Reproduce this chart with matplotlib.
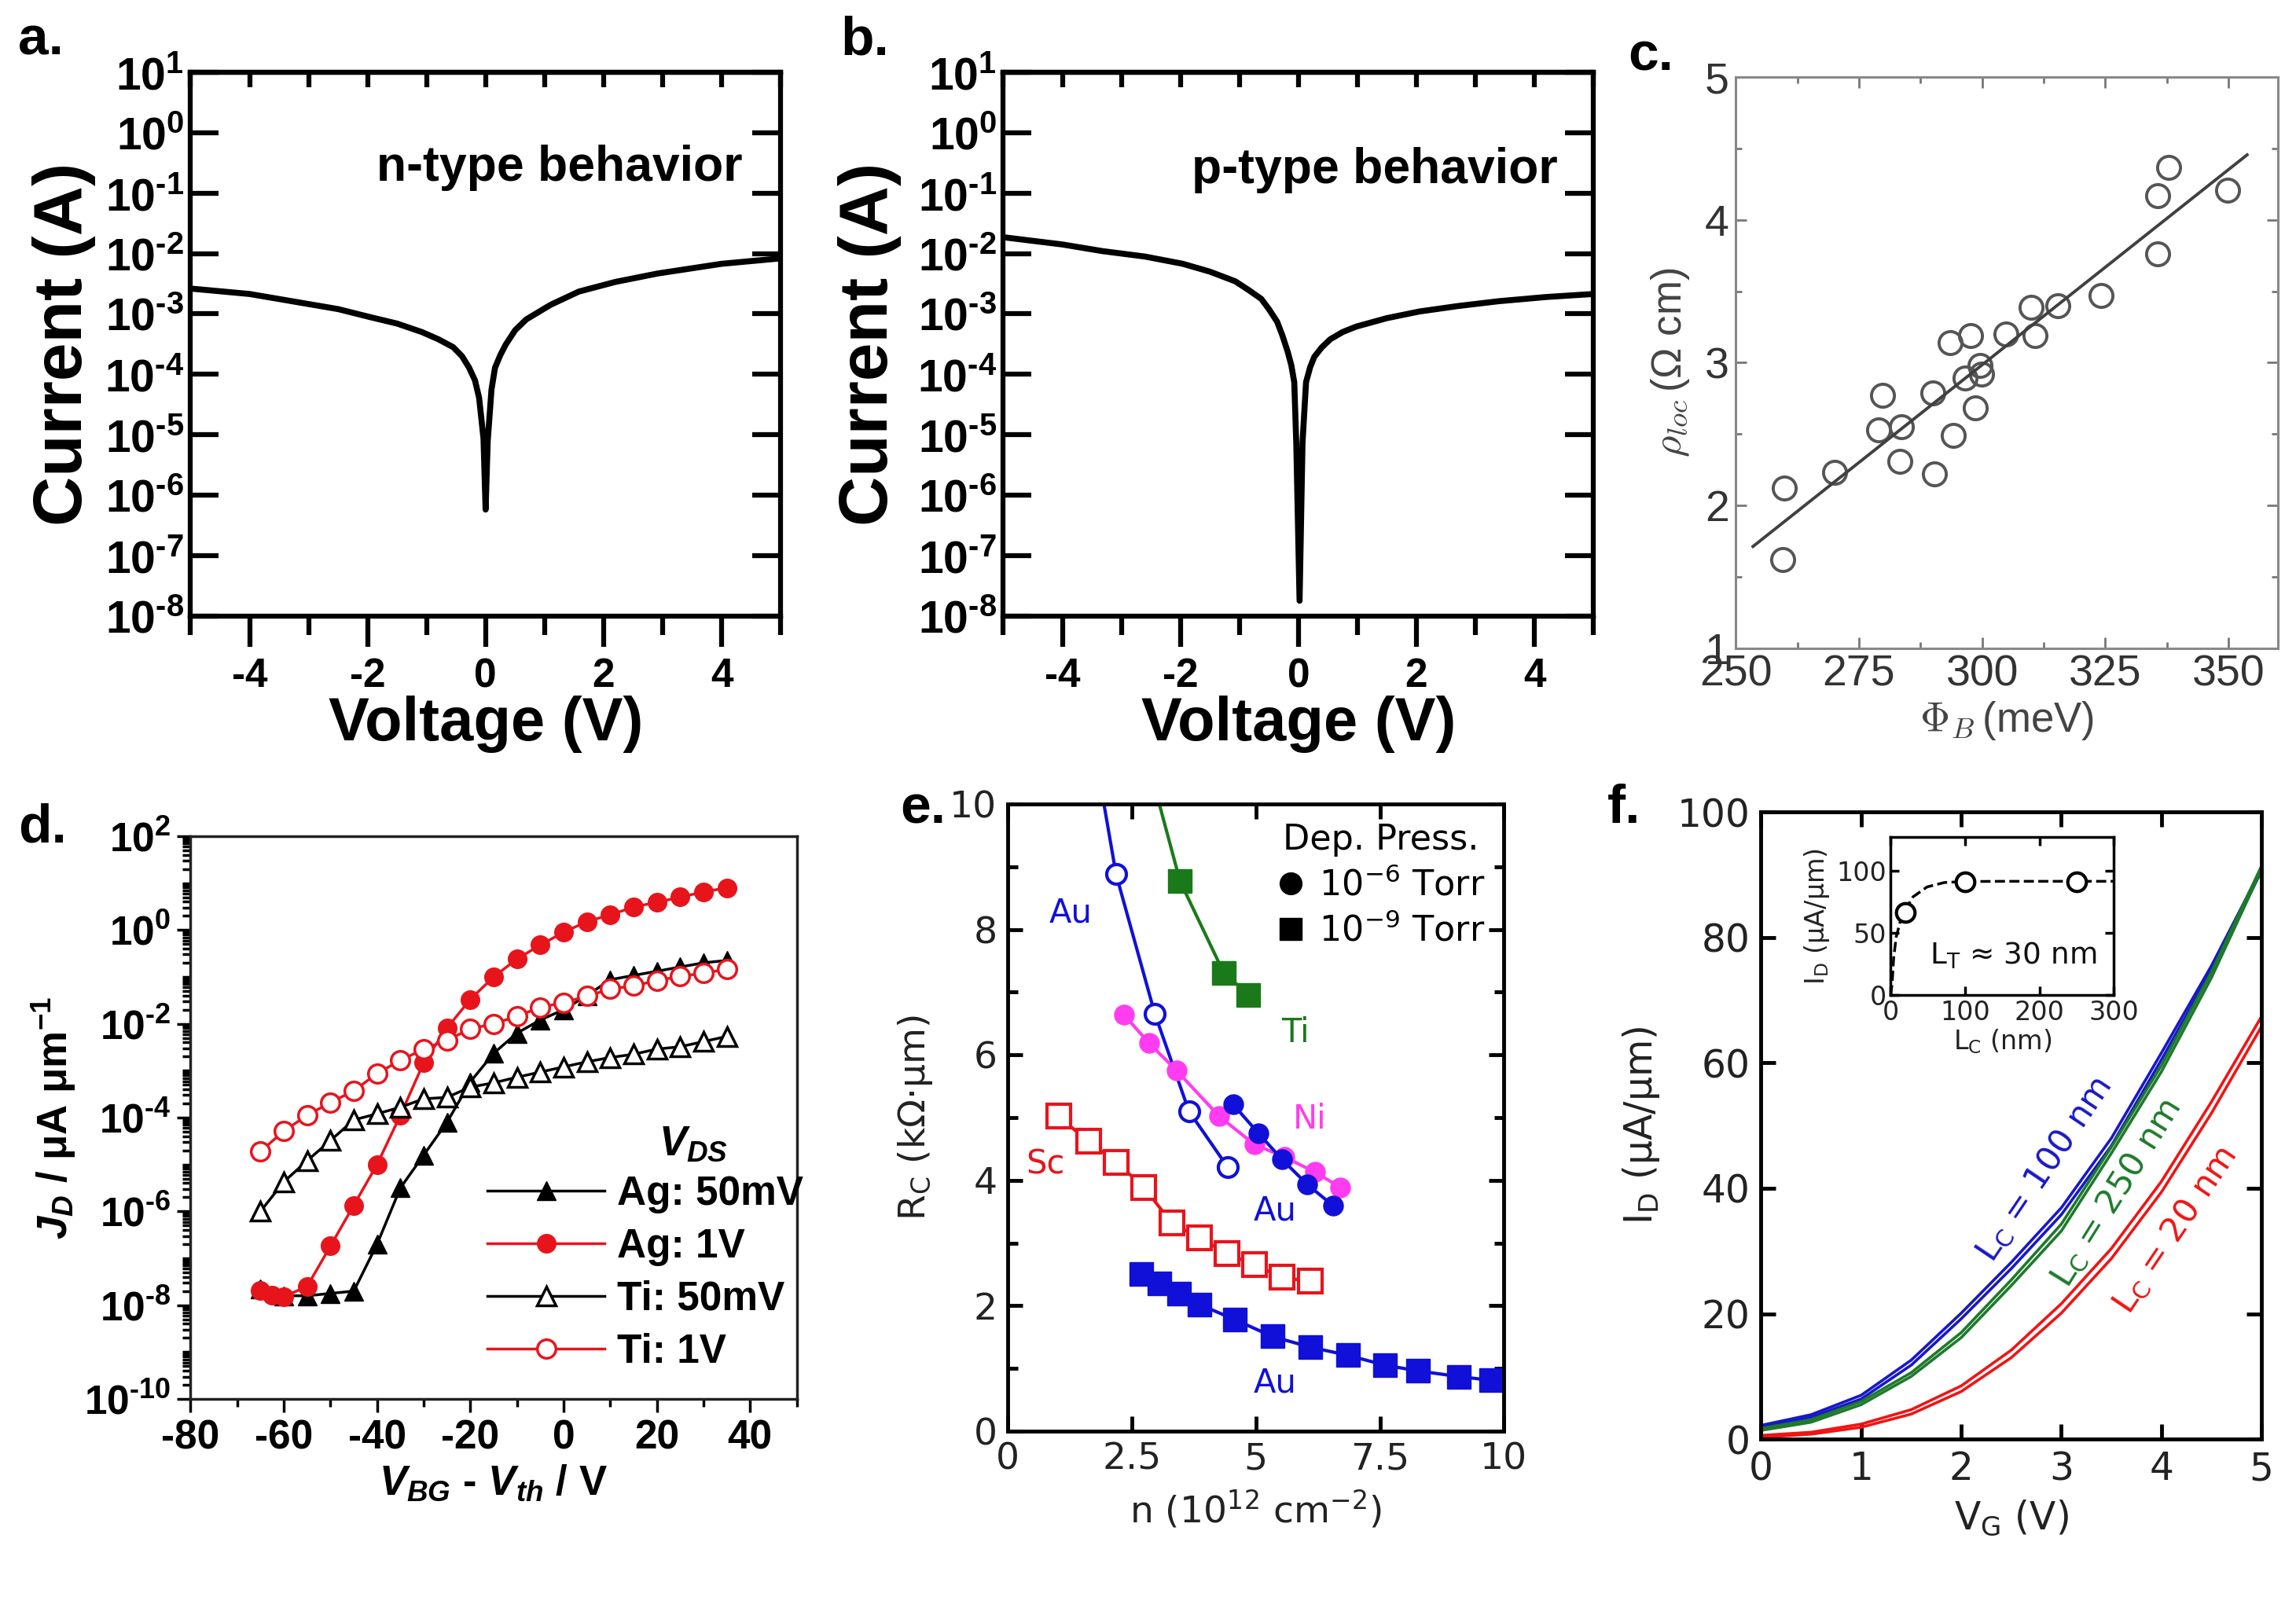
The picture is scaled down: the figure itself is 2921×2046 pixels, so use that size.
import numpy as np
import matplotlib
matplotlib.use('Agg')
import matplotlib.pyplot as plt
from matplotlib.lines import Line2D
from matplotlib.ticker import LogLocator, NullLocator, NullFormatter, MultipleLocator

plt.rcParams['font.family'] = ['DejaVu Sans']
plt.rcParams['mathtext.fontset'] = 'custom'
plt.rcParams['mathtext.rm'] = 'Liberation Sans:bold'
plt.rcParams['mathtext.bf'] = 'Liberation Sans:bold'
plt.rcParams['mathtext.it'] = 'Liberation Sans:bold:italic'
plt.rcParams['mathtext.sf'] = 'Liberation Sans:bold'

ARIAL = 'Liberation Sans'

# ---- a. n-type I-V (log10 of current)
va = [-5, -4, -3.22, -2.5, -1.97, -1.5, -1.08, -0.8, -0.55, -0.4, -0.28, -0.18, -0.11,
      -0.036, 0.0, 0.036, 0.07, 0.1, 0.16, 0.25, 0.34, 0.5, 0.69, 1.1, 1.58, 2.2, 2.92,
      4.0, 5.0]
la = [-2.58, -2.67, -2.80, -2.92, -3.05, -3.16, -3.30, -3.42, -3.55, -3.70, -3.89, -4.10,
      -4.39, -5.06, -6.24, -5.10, -4.65, -4.25, -3.89, -3.68, -3.51, -3.27, -3.09, -2.85,
      -2.63, -2.47, -2.33, -2.17, -2.08]

# ---- b. p-type I-V
vb = [-5, -4, -3.32, -2.6, -1.96, -1.5, -1.07, -0.85, -0.63, -0.5, -0.36, -0.27, -0.18,
      -0.12, -0.07, -0.036, 0.02, 0.07, 0.13, 0.2, 0.27, 0.4, 0.54, 0.75, 0.98, 1.5, 2.05,
      2.7, 3.39, 4.2, 5.0]
lb = [-1.73, -1.85, -1.96, -2.05, -2.17, -2.30, -2.46, -2.60, -2.75, -2.92, -3.13, -3.36,
      -3.63, -3.85, -4.13, -5.13, -7.75, -5.13, -4.13, -3.88, -3.71, -3.55, -3.42, -3.30,
      -3.21, -3.07, -2.96, -2.87, -2.79, -2.72, -2.67]

# ---- c. rho_loc vs barrier height
phi_b = [259.9, 259.5, 270.0, 279.8, 279.0, 283.7, 283.3, 290.0, 290.3, 293.5,
         297.7, 296.6, 294.2, 299.6, 299.9, 298.7, 304.9, 309.9, 310.8, 315.3,
         324.2, 335.6, 337.8, 335.7, 349.8]
rho_loc = [2.12, 1.62, 2.23, 2.77, 2.53, 2.55, 2.31, 2.79, 2.22, 3.14,
           3.19, 2.89, 2.49, 2.98, 2.92, 2.68, 3.20, 3.39, 3.19, 3.40,
           3.47, 4.17, 4.37, 3.76, 4.21]
fit_span = [253.5, 353.8]

# ---- d. J_D vs V_BG - V_th (log10)
vg_d = [-65, -60, -55, -50, -45, -40, -35, -30, -25, -20, -15,
        -10, -5, 0, 5, 10, 15, 20, 25, 30, 35]
ag_50mv = [-7.65, -7.80, -7.80, -7.75, -7.70, -6.70, -5.50, -4.80, -4.10, -3.24, -2.63,
           -2.20, -1.92, -1.70, -1.40, -1.06, -0.97, -0.88, -0.79, -0.70, -0.65]
vg_ag1 = [-65, -62.5, -60, -55, -50, -45, -40, -35, -30, -25, -20, -15,
          -10, -5, 0, 5, 10, 15, 20, 25, 30, 35]
ag_1v = [-7.68, -7.78, -7.82, -7.60, -6.74, -5.87, -5.00, -3.95, -2.83, -2.09, -1.48, -1.00,
         -0.62, -0.32, -0.05, 0.18, 0.32, 0.49, 0.59, 0.70, 0.81, 0.90]
ti_50mv = [-6.00, -5.37, -4.92, -4.49, -4.05, -3.92, -3.78, -3.60, -3.57, -3.35, -3.26,
           -3.14, -3.03, -2.92, -2.81, -2.72, -2.65, -2.54, -2.49, -2.38, -2.27]
ti_1v = [-4.72, -4.29, -3.95, -3.68, -3.43, -3.06, -2.78, -2.54, -2.35, -2.11, -2.00,
         -1.84, -1.65, -1.55, -1.41, -1.26, -1.19, -1.08, -0.99, -0.92, -0.84]

# ---- e. contact resistance vs carrier density
n_ti = [2.95, 3.47, 4.35, 4.85]
rc_ti = [10.3, 8.77, 7.31, 6.96]
n_au_open = [1.87, 2.18, 2.96, 3.65, 4.43]
rc_au_open = [10.3, 8.88, 6.66, 5.10, 4.21]
n_ni = [2.34, 2.84, 3.40, 4.26, 4.97, 5.58, 6.19, 6.70]
rc_ni = [6.64, 6.19, 5.75, 5.02, 4.57, 4.37, 4.13, 3.89]
n_au6 = [4.54, 5.05, 5.53, 6.04, 6.55]
rc_au6 = [5.21, 4.75, 4.33, 3.93, 3.60]
n_sc = [1.02, 1.62, 2.18, 2.74, 3.30, 3.86, 4.42, 4.97, 5.53, 6.09]
rc_sc = [5.02, 4.62, 4.29, 3.89, 3.32, 3.08, 2.83, 2.65, 2.45, 2.39]
n_au9 = [2.69, 3.05, 3.45, 3.86, 4.57, 5.33, 6.09, 6.85, 7.61, 8.27, 9.09, 9.75]
rc_au9 = [2.51, 2.35, 2.19, 2.02, 1.78, 1.51, 1.34, 1.21, 1.05, 0.96, 0.87, 0.81]

# ---- f. transfer curves (forward / reverse sweeps)
vg_f = [0, 0.5, 1.0, 1.5, 2.0, 2.5, 3.0, 3.5, 4.0, 4.5, 5.0]
id_100_a = [2.2, 3.9, 7.0, 12.6, 20.1, 28.2, 36.9, 48.0, 61.6, 75.5, 91.0]
id_100_b = [1.9, 3.5, 6.4, 11.8, 19.2, 27.2, 35.8, 46.8, 60.5, 74.8, 90.6]
id_250_a = [1.7, 3.1, 6.0, 10.6, 17.0, 25.4, 34.3, 46.6, 59.6, 74.5, 91.4]
id_250_b = [1.4, 2.7, 5.5, 10.0, 16.2, 24.5, 33.2, 45.6, 58.6, 73.6, 90.8]
id_20_a = [0.6, 1.1, 2.4, 4.7, 8.5, 14.2, 21.6, 30.4, 41.1, 53.8, 67.4]
id_20_b = [0.3, 0.8, 1.9, 4.0, 7.6, 13.0, 20.1, 28.8, 39.4, 52.0, 65.8]
# inset
lc_pts = [20, 100, 250]
id_pts = [66.5, 91.0, 91.0]
lc_fit = [0, 2, 4, 7.5, 15, 30, 49, 72, 98, 150, 200, 300]
id_fit = [0, 9.5, 30, 47, 64, 79, 87, 90.5, 91.3, 91.5, 91.5, 91.5]

fig = plt.figure(figsize=(29.21, 20.46), dpi=100)


def panel_label(x, y, s):
    fig.text(x, y, s, fontsize=50, fontweight='bold', family=ARIAL, va='center')


def log_labels(exps):
    return [r'$10^{\text{%d}}$' % e for e in exps]


def iv_panel(rect, v, logi, note, note_xy, ypad):
    ax = fig.add_axes(rect)
    ax.plot(v, 10.0 ** np.array(logi), color='black', lw=5.5)
    ax.set_yscale('log')
    ax.set_xlim(-5, 5)
    ax.set_ylim(1e-8, 1e1)
    exps = np.arange(-8, 2)
    ax.set_yticks(10.0 ** exps, log_labels(exps), fontsize=41)
    ax.yaxis.set_minor_locator(NullLocator())
    ax.set_xticks([-4, -2, 0, 2, 4], ['-4', '-2', '0', '2', '4'],
                  fontsize=37, fontweight='bold', family=ARIAL)
    ax.set_xticks([-5, -3, -1, 1, 3, 5], minor=True)
    ax.tick_params(axis='y', which='major', direction='in', left=True, right=True,
                   length=26, width=4.5, pad=6)
    ax.tick_params(axis='x', which='major', direction='out', length=28, width=4.5, pad=10)
    ax.tick_params(axis='x', which='minor', direction='out', length=17, width=4.5)
    top = ax.secondary_xaxis('top')
    top.set_xticks(np.arange(-5, 6), [''] * 11)
    top.tick_params(direction='in', length=14, width=4.5)
    top.spines['top'].set_linewidth(4.5)
    for s in ax.spines.values():
        s.set_linewidth(4.5)
    ax.set_ylabel('Current (A)', fontsize=63, fontweight='bold', family=ARIAL, labelpad=ypad)
    ax.set_xlabel('Voltage (V)', fontsize=56, fontweight='bold', family=ARIAL, labelpad=0)
    ax.text(note_xy[0], note_xy[1], note, transform=ax.transAxes, ha='right', va='center',
            fontsize=45, fontweight='bold', family=ARIAL)
    return ax


# a, b
iv_panel([0.083, 0.617, 0.257, 0.338], va, la, 'n-type behavior', (0.935, 0.825), 8)
iv_panel([0.437, 0.617, 0.257, 0.338], vb, lb, 'p-type behavior', (0.94, 0.82), 14)
panel_label(0.008, 0.975, 'a.')
panel_label(0.366, 0.975, 'b.')

# c
gray = '#555555'
axc = fig.add_axes([0.756, 0.597, 0.236, 0.355])
axc.plot(phi_b, rho_loc, 'o', mfc='none', mec=gray, ms=21, mew=2.8)
coef = np.polyfit(phi_b, rho_loc, 1)
axc.plot(fit_span, np.polyval(coef, fit_span), color='#404040', lw=2.8)
axc.set_xlim(250, 360)
axc.set_ylim(1, 5)
axc.set_xticks([250, 275, 300, 325, 350], ['250', '275', '300', '325', '350'],
               fontsize=40, family=ARIAL, color='#333333')
axc.set_yticks([1, 2, 3, 4, 5], ['1', '2', '3', '4', '5'], fontsize=40, family=ARIAL,
               color='#333333')
axc.xaxis.set_minor_locator(MultipleLocator(12.5))
axc.yaxis.set_minor_locator(MultipleLocator(0.5))
axc.tick_params(which='both', direction='in', top=True, right=True, color='#777777',
                width=2)
axc.tick_params(which='major', length=10, pad=6)
axc.tick_params(which='minor', length=6)
for s in axc.spines.values():
    s.set_color('#888888')
    s.set_linewidth(2.2)
axc.set_ylabel(r'$\rho_{loc}\,$(Ω cm)', fontsize=38, family=ARIAL, color='#444444',
               math_fontfamily='cm', labelpad=12)
axc.set_xlabel(r'$\Phi_B\,$(meV)', fontsize=38, family=ARIAL, color='#444444',
               math_fontfamily='cm', labelpad=4)
panel_label(0.709, 0.965, 'c.')

# d
red = '#e8141c'
axd = fig.add_axes([0.083, 0.130, 0.264, 0.350])
lw_d, ms_d = 2.5, 17
axd.plot(vg_d, 10.0 ** np.array(ag_50mv), '-^', color='black', ms=ms_d, lw=lw_d,
         label='Ag: 50mV')
axd.plot(vg_ag1, 10.0 ** np.array(ag_1v), '-o', color=red, ms=ms_d, lw=lw_d,
         label='Ag: 1V')
axd.plot(vg_d, 10.0 ** np.array(ti_50mv), '-^', color='black', mfc='white', mew=2.5,
         ms=ms_d, lw=lw_d, label='Ti: 50mV')
axd.plot(vg_d, 10.0 ** np.array(ti_1v), '-o', color=red, mfc='white', mew=2.5,
         ms=ms_d, lw=lw_d, label='Ti: 1V')
axd.set_yscale('log')
axd.set_xlim(-80, 50)
axd.set_ylim(1e-10, 1e2)
dexp = np.arange(-10, 3, 2)
axd.set_yticks(10.0 ** dexp, log_labels(dexp), fontsize=37)
axd.yaxis.set_minor_locator(LogLocator(base=10, subs=np.arange(1, 10), numticks=60))
axd.yaxis.set_minor_formatter(NullFormatter())
axd.set_xticks([-80, -60, -40, -20, 0, 20, 40], ['-80', '-60', '-40', '-20', '0', '20', '40'],
               fontsize=37, fontweight='bold', family=ARIAL)
axd.xaxis.set_minor_locator(MultipleLocator(10))
axd.tick_params(which='both', direction='out', width=2.5)
axd.tick_params(which='major', length=12, pad=6)
axd.tick_params(which='minor', length=7)
for s in axd.spines.values():
    s.set_linewidth(2.5)
    s.set_color('#222222')
axd.set_ylabel(r'$J_D$ / μA μm$^{-1}$', fontsize=38, fontweight='bold', family=ARIAL,
               labelpad=6)
axd.set_xlabel(r'$V_{BG}$ - $V_{th}$ / V', fontsize=38, fontweight='bold', family=ARIAL,
               labelpad=6)
leg = axd.legend(loc='lower left', bbox_to_anchor=(0.43, -0.015), frameon=False,
                 handlelength=2.9, handletextpad=0.3, labelspacing=0.35,
                 prop={'family': ARIAL, 'weight': 'bold', 'size': 37})
axd.text(0.83, 0.455, r'$V_{DS}$', transform=axd.transAxes, fontsize=38, ha='center',
         va='center')
panel_label(0.008, 0.485, 'd.')

# e
blue = '#1010d8'
green = '#1a7a1a'
magenta = '#ff3cf0'
axe = fig.add_axes([0.439, 0.110, 0.216, 0.390])
ms_s, ms_c = 21, 18
axe.plot(n_ti, rc_ti, '-s', color=green, ms=ms_s, lw=3, markevery=[1, 2, 3])
axe.plot(n_au_open, rc_au_open, '-o', color=blue, mfc='white', mew=3, ms=ms_c, lw=3,
         markevery=[1, 2, 3, 4])
axe.plot(n_ni, rc_ni, '-o', color=magenta, ms=ms_c, lw=3)
axe.plot(n_au6, rc_au6, '-o', color=blue, ms=ms_c, lw=3)
axe.plot(n_sc, rc_sc, '-s', color=red, mfc='white', mew=3, ms=ms_s, lw=3)
axe.plot(n_au9, rc_au9, '-s', color=blue, ms=ms_s, lw=3)
axe.set_xlim(0, 10)
axe.set_ylim(0, 10)
axe.set_xticks([0, 2.5, 5, 7.5, 10], ['0', '2.5', '5', '7.5', '10'], fontsize=34,
               color='#222222')
axe.set_yticks([0, 2, 4, 6, 8, 10], ['0', '2', '4', '6', '8', '10'], fontsize=34,
               color='#222222')
axe.yaxis.set_minor_locator(MultipleLocator(1))
axe.tick_params(which='both', direction='in', top=True, right=True, width=3.5)
axe.tick_params(which='major', length=14, pad=10)
axe.tick_params(which='minor', length=9)
for s in axe.spines.values():
    s.set_linewidth(3.5)
axe.set_ylabel(r'R$_\mathrm{C}$ (kΩ·μm)', fontsize=34, color='#222222',
               math_fontfamily='dejavusans', labelpad=14)
axe.set_xlabel(r'n (10$^{12}$ cm$^{-2}$)', fontsize=34, color='#222222',
               math_fontfamily='dejavusans', labelpad=10)
for (x, y, s, c) in [(1.27, 8.26, 'Au', blue), (5.79, 6.35, 'Ti', green),
                     (6.09, 4.98, 'Ni', magenta), (0.76, 4.25, 'Sc', red),
                     (5.38, 3.52, 'Au', blue), (5.38, 0.77, 'Au', blue)]:
    axe.text(x, y, s, color=c, fontsize=30, ha='center', va='center')
handles = [Line2D([], [], marker='o', ls='none', color='black', ms=20),
           Line2D([], [], marker='s', ls='none', color='black', ms=20)]
axe.legend(handles, [r'10$^{-6}$ Torr', r'10$^{-9}$ Torr'], title='Dep. Press.',
           loc='upper right', frameon=False, handlelength=0.8, handletextpad=0.4,
           borderaxespad=0.15, labelspacing=0.3,
           prop={'size': 32, 'math_fontfamily': 'dejavusans'}, title_fontsize=32)
panel_label(0.392, 0.497, 'e.')

# f
fblue = '#1818c8'
fgreen = '#1d7a2b'
fred = '#f01414'
axf = fig.add_axes([0.767, 0.105, 0.218, 0.390])
for ys, c in [(id_20_a, fred), (id_20_b, fred), (id_100_a, fblue), (id_100_b, fblue),
              (id_250_a, fgreen), (id_250_b, fgreen)]:
    axf.plot(vg_f, ys, color=c, lw=2.6)
axf.set_xlim(0, 5)
axf.set_ylim(0, 100)
axf.set_xticks(range(6), [str(i) for i in range(6)], fontsize=35, color='#222222')
axf.set_yticks(range(0, 101, 20), [str(i) for i in range(0, 101, 20)], fontsize=35,
               color='#222222')
axf.tick_params(direction='in', top=True, right=True, width=3.5, length=14, pad=10)
for s in axf.spines.values():
    s.set_linewidth(3.5)
axf.set_ylabel(r'I$_\mathrm{D}$ (μA/μm)', fontsize=35, color='#222222',
               math_fontfamily='dejavusans', labelpad=14)
axf.set_xlabel(r'V$_\mathrm{G}$ (V)', fontsize=35, color='#222222',
               math_fontfamily='dejavusans', labelpad=10)
for (x, y, s, c, r) in [(2.83, 43, r'L$_\mathrm{C}$ = 100 nm', fblue, 56),
                        (3.55, 39.3, r'L$_\mathrm{C}$ = 250 nm', fgreen, 58),
                        (4.14, 33.3, r'L$_\mathrm{C}$ = 20 nm', fred, 56)]:
    axf.text(x, y, s, color=c, fontsize=31, rotation=r, ha='center', va='center',
             rotation_mode='anchor', math_fontfamily='dejavusans')

axi = axf.inset_axes([0.259, 0.708, 0.446, 0.252])
axi.plot(lc_fit, id_fit, '--', color='black', lw=2.5)
axi.plot(lc_pts, id_pts, 'o', mfc='white', mec='black', mew=3, ms=17)
axi.set_xlim(0, 300)
axi.set_ylim(0, 127)
axi.set_xticks([0, 100, 200, 300], ['0', '100', '200', '300'], fontsize=24, color='#222222')
axi.set_yticks([0, 50, 100], ['0', '50', '100'], fontsize=24, color='#222222')
axi.tick_params(direction='in', top=True, right=True, width=2.5, length=8, pad=4)
for s in axi.spines.values():
    s.set_linewidth(2.5)
axi.set_ylabel(r'I$_\mathrm{D}$ (μA/μm)', fontsize=24, color='#222222',
               math_fontfamily='dejavusans', labelpad=4)
axi.set_xlabel(r'L$_\mathrm{C}$ (nm)', fontsize=24, color='#222222',
               math_fontfamily='dejavusans', labelpad=2)
axi.text(0.55, 0.25, r'L$_\mathrm{T}$ ≈ 30 nm', transform=axi.transAxes, fontsize=27,
         ha='center', va='center', math_fontfamily='dejavusans', color='#111111')
panel_label(0.700, 0.497, 'f.')

fig.savefig('out.png', dpi=100, facecolor='white')
